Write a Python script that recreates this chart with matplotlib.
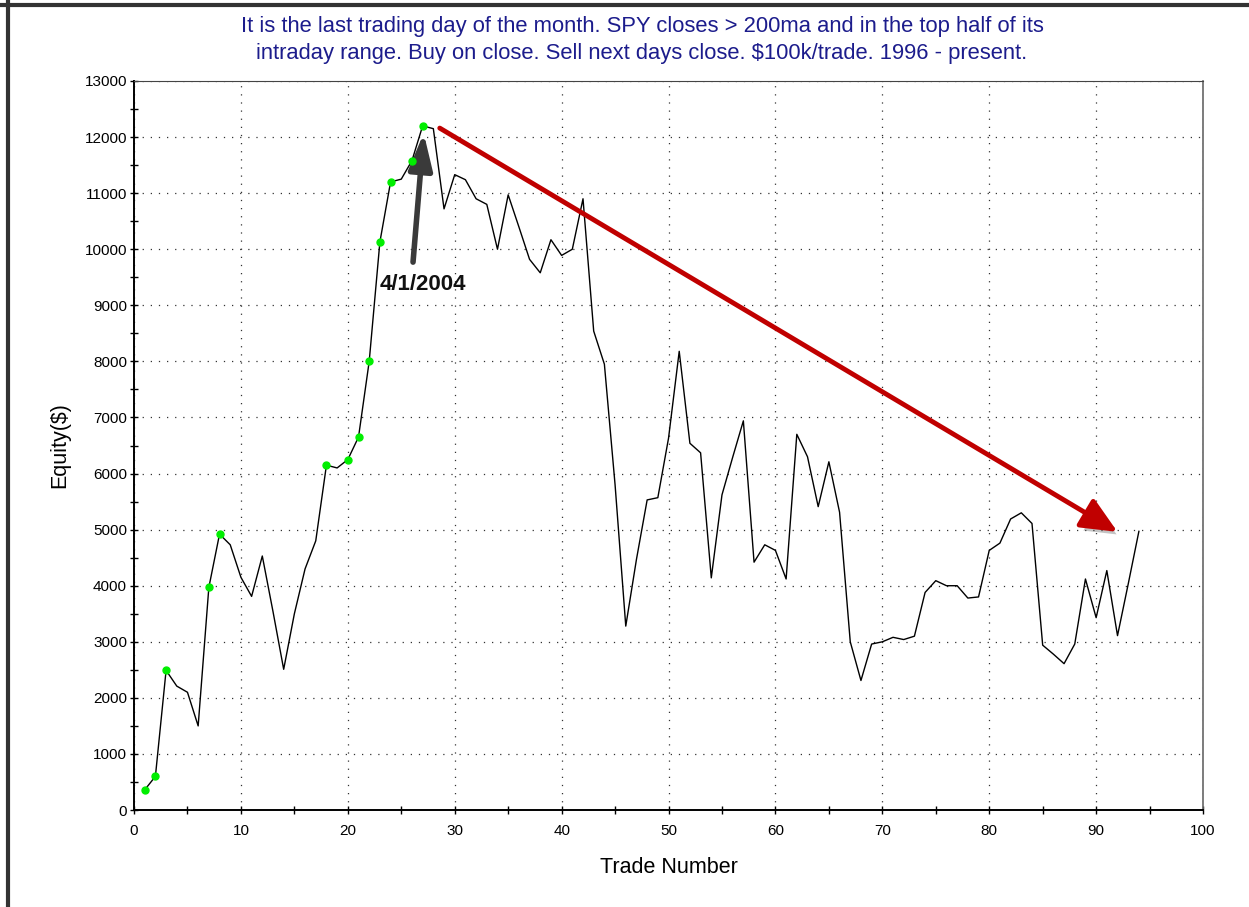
import numpy as np
import matplotlib
matplotlib.use("Agg")
import matplotlib.pyplot as plt
import matplotlib.patheffects as pe
from matplotlib.lines import Line2D

plt.rcParams['font.family'] = ['Liberation Sans', 'DejaVu Sans']

# equity curve, one value per trade
trade_no = np.arange(1, 95)
equity = [360, 600, 2490, 2210, 2100, 1500, 3970, 4920, 4730, 4150,
          3810, 4530, 3540, 2510, 3500, 4300, 4800, 6150, 6100, 6250,
          6650, 8000, 10130, 11200, 11250, 11580, 12200, 12150, 10720, 11330,
          11240, 10900, 10800, 10000, 10970, 10400, 9820, 9580, 10170, 9890,
          10000, 10900, 8540, 7950, 5800, 3280, 4470, 5530, 5570, 6630,
          8180, 6540, 6370, 4140, 5620, 6290, 6940, 4420, 4730, 4630,
          4120, 6700, 6300, 5410, 6210, 5310, 3000, 2310, 2960, 3000,
          3080, 3040, 3100, 3880, 4090, 4000, 4000, 3780, 3800, 4630,
          4760, 5190, 5300, 5110, 2940, 2780, 2610, 2960, 4120, 3430,
          4270, 3110, 4030, 4970]
# trades marked with green dots (new equity highs)
marked = [1, 2, 3, 7, 8, 18, 20, 21, 22, 23, 24, 26, 27]

title = ("It is the last trading day of the month. SPY closes > 200ma and in the top half of its\n"
         "intraday range. Buy on close. Sell next days close. $100k/trade. 1996 - present.")

fig = plt.figure(figsize=(12.49, 9.07), dpi=100)
ax = fig.add_axes([0.1073, 0.1069, 0.8559, 0.8038])

ax.plot(trade_no, equity, color='black', lw=1.0, zorder=3)
mk = [equity[t - 1] for t in marked]
ax.plot(marked, mk, 'o', color='#00ee00', ms=5, mec='#00ee00', zorder=7)

ax.set_xlim(0, 100)
ax.set_ylim(0, 13000)
ax.set_xticks(np.arange(0, 101, 10))
ax.set_xticks(np.arange(5, 100, 10), minor=True)
ax.set_yticks(np.arange(0, 13001, 1000))
ax.set_yticks(np.arange(500, 13000, 1000), minor=True)
ax.tick_params(which='both', direction='inout', length=6, width=1, labelsize=11)
ax.tick_params(axis='x', pad=7)
ax.tick_params(axis='y', pad=2)
ax.grid(True, which='major', color='#333333', linestyle=(0, (1, 5.5)), lw=0.9)

ax.spines['left'].set_linewidth(1.4)
ax.spines['bottom'].set_linewidth(1.4)
ax.spines['top'].set_color('#444444')
ax.spines['right'].set_color('#666666')
ax.spines['right'].set_linewidth(1.2)

ax.set_xlabel('Trade Number', fontsize=15.5, labelpad=14)
ax.set_ylabel('Equity($)', fontsize=15.5, labelpad=10)

fig.text(0.514, 0.982, title, ha='center', va='top', fontsize=15.8,
         color='#1c1c8c', linespacing=1.35)

# big red trend arrow with shadow
ax.annotate('', xy=(92.0, 4960), xytext=(28.6, 12160),
            arrowprops=dict(arrowstyle='-|>,head_length=1.0,head_width=0.45',
                            color='#c00000', lw=3.5, mutation_scale=22,
                            shrinkA=0, shrinkB=0,
                            path_effects=[pe.SimplePatchShadow(offset=(3, -4), shadow_rgbFace='#555555', alpha=0.35),
                                          pe.Normal()]),
            zorder=5)

# dark arrow to the equity peak
ax.annotate('', xy=(27.1, 12070), xytext=(26.1, 9770),
            arrowprops=dict(arrowstyle='-|>,head_length=1.1,head_width=0.36',
                            color='#3a3a3a', lw=4, mutation_scale=20,
                            shrinkA=0, shrinkB=0),
            zorder=5)
ax.text(23.0, 9380, '4/1/2004', fontsize=16, fontweight='bold',
        ha='left', va='center', color='#111111', zorder=6)

# outer frame of the screenshot
fig.add_artist(Line2D([7.5 / 1249, 7.5 / 1249], [0, 1], transform=fig.transFigure,
                      color='#333333', lw=3))
fig.add_artist(Line2D([0, 1], [1 - 5 / 907, 1 - 5 / 907], transform=fig.transFigure,
                      color='#333333', lw=3))

fig.savefig('out.png', dpi=100)
